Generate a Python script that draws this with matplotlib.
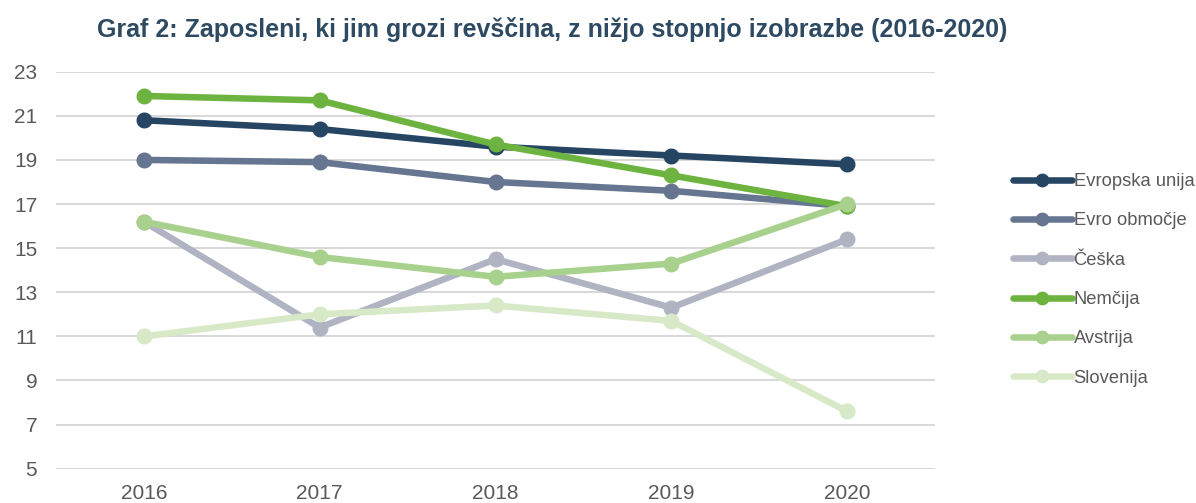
import matplotlib
matplotlib.use("Agg")
import matplotlib.pyplot as plt

years = ["2016", "2017", "2018", "2019", "2020"]
series_names = ["Evropska unija", "Evro območje", "Češka", "Nemčija", "Avstrija", "Slovenija"]
eu = [20.8, 20.4, 19.6, 19.2, 18.8]
evro = [19.0, 18.9, 18.0, 17.6, 16.9]
ceska = [16.2, 11.4, 14.5, 12.3, 15.4]
nemcija = [21.9, 21.7, 19.7, 18.3, 16.9]
avstrija = [16.2, 14.6, 13.7, 14.3, 17.0]
slovenija = [11.0, 12.0, 12.4, 11.7, 7.6]
colors = ["#264563", "#667590", "#AFB3C2", "#6DB33F", "#A9D18E", "#D8E9C8"]
yticks = [5, 7, 9, 11, 13, 15, 17, 19, 21, 23]

plt.rcParams['font.family'] = ['Liberation Sans', 'DejaVu Sans']

fig = plt.figure(figsize=(11.96, 5.03), dpi=100)
ax = fig.add_axes([56/1196, 1-468.7/503, (935-56)/1196, (468.7-71.7)/503])

x = list(range(len(years)))
for name, vals, c in zip(series_names, [eu, evro, ceska, nemcija, avstrija, slovenija], colors):
    ax.plot(x, vals, color=c, lw=4.7, marker='o', markersize=10.5, label=name,
            solid_capstyle='round', clip_on=False)

ax.set_xlim(-0.5, 4.5)
ax.set_ylim(5, 23)
ax.set_yticks(yticks)
ax.set_xticks(x)
ax.set_xticklabels(years)
ax.grid(axis='y', color='#D9D9D9', lw=1.5)
ax.set_axisbelow(True)
for s in ax.spines.values():
    s.set_visible(False)
ax.tick_params(axis='both', length=0, labelsize=15, labelcolor='#595959')
ax.tick_params(axis='y', pad=13.5)
ax.tick_params(axis='x', pad=11)

fig.text(97/1196, 1-30/503, "Graf 2: Zaposleni, ki jim grozi revščina, z nižjo stopnjo izobrazbe (2016-2020)",
         fontsize=18, fontweight='bold', color='#2E4A62', ha='left', va='center')

leg = fig.legend(loc='upper left', bbox_to_anchor=(1013/1196, 1-173/503), frameon=False,
                 fontsize=13.2, handlelength=3.2, handletextpad=0.1, labelspacing=1.22,
                 borderaxespad=0, borderpad=0, markerscale=0.85)
for t in leg.get_texts():
    t.set_color('#595959')

fig.savefig("out.png", dpi=100)
